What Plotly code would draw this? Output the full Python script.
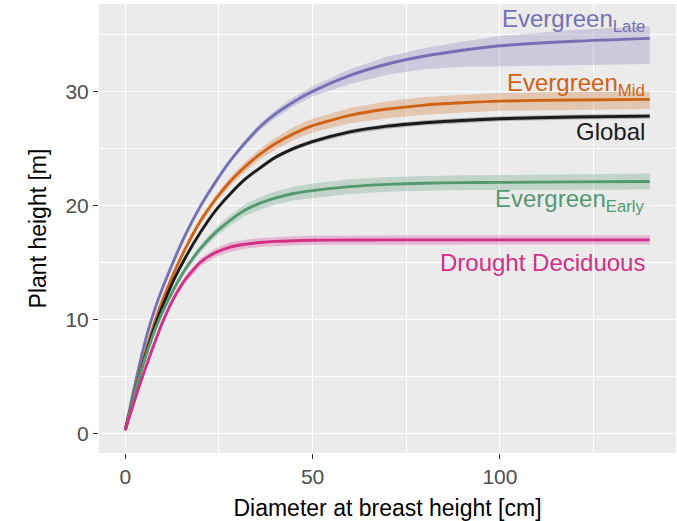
import plotly.graph_objects as go

# Diameter at breast height (cm) at which each height curve is tabulated
dbh = [0, 2, 4, 6, 8, 10, 13, 16, 20, 24, 28, 32, 36, 40, 45, 50,
       60, 70, 80, 90, 100, 120, 140]

# Predicted plant height (m) per group, with distances from the mean
# down to the lower and up to the upper edge of the credible band
late_mean = [0.3, 3.4, 6.3, 8.9, 11.0, 12.8, 15.2, 17.4, 19.9, 22.0, 23.9, 25.5, 26.9, 28.0,
             29.1, 30.0, 31.4, 32.4, 33.1, 33.6, 34.0, 34.4, 34.65]
late_band_lo = [0.05, 0.05, 0.05, 0.05, 0.08, 0.1, 0.1, 0.12, 0.15, 0.18, 0.2, 0.25, 0.3, 0.35,
                0.4, 0.45, 0.75, 0.95, 1.15, 1.45, 1.8, 2.1, 2.25]
late_band_hi = [0.05, 0.05, 0.05, 0.05, 0.08, 0.1, 0.1, 0.12, 0.15, 0.18, 0.2, 0.25, 0.3, 0.35,
                0.4, 0.45, 0.55, 0.65, 0.7, 0.75, 0.85, 1.0, 1.05]

mid_mean = [0.3, 3.0, 5.5, 7.8, 9.9, 11.7, 14.1, 16.2, 18.6, 20.5, 22.1, 23.4, 24.5, 25.4,
            26.3, 27.0, 27.9, 28.45, 28.8, 29.0, 29.15, 29.25, 29.3]
mid_band_lo = [0.03, 0.05, 0.07, 0.1, 0.12, 0.15, 0.18, 0.22, 0.27, 0.32, 0.37, 0.42, 0.47, 0.52,
               0.57, 0.6, 0.7, 0.8, 0.85, 0.85, 0.85, 0.85, 0.85]
mid_band_hi = [0.03, 0.05, 0.07, 0.1, 0.12, 0.15, 0.18, 0.22, 0.27, 0.32, 0.37, 0.42, 0.47, 0.52,
               0.57, 0.6, 0.65, 0.68, 0.7, 0.7, 0.7, 0.7, 0.7]

global_mean = [0.3, 2.9, 5.3, 7.5, 9.5, 11.2, 13.5, 15.4, 17.6, 19.5, 21.0, 22.3, 23.3, 24.2,
               25.0, 25.6, 26.45, 26.95, 27.25, 27.45, 27.6, 27.75, 27.83]
global_band_lo = [0.02, 0.02, 0.03, 0.04, 0.05, 0.05, 0.06, 0.08, 0.1, 0.12, 0.13, 0.15, 0.16, 0.17,
                  0.18, 0.2, 0.2, 0.22, 0.22, 0.22, 0.22, 0.22, 0.22]
global_band_hi = [0.02, 0.02, 0.03, 0.04, 0.05, 0.05, 0.06, 0.08, 0.1, 0.12, 0.13, 0.15, 0.16, 0.17,
                  0.18, 0.2, 0.2, 0.22, 0.22, 0.22, 0.22, 0.22, 0.22]

early_mean = [0.3, 2.9, 5.25, 7.3, 9.15, 10.7, 12.7, 14.4, 16.2, 17.6, 18.7, 19.6, 20.2, 20.65,
              21.05, 21.3, 21.65, 21.85, 21.95, 22.0, 22.02, 22.07, 22.1]
early_band_lo = [0.03, 0.05, 0.07, 0.1, 0.13, 0.16, 0.2, 0.25, 0.32, 0.4, 0.45, 0.5, 0.55, 0.58,
                 0.6, 0.62, 0.64, 0.65, 0.65, 0.65, 0.65, 0.68, 0.7]
early_band_hi = [0.03, 0.05, 0.07, 0.1, 0.13, 0.16, 0.2, 0.25, 0.32, 0.4, 0.45, 0.5, 0.55, 0.58,
                 0.6, 0.62, 0.64, 0.65, 0.65, 0.65, 0.65, 0.68, 0.7]

drought_mean = [0.3, 2.4, 4.4, 6.3, 8.1, 9.8, 11.9, 13.5, 15.0, 15.85, 16.35, 16.6, 16.75, 16.85,
                16.91, 16.95, 16.97, 16.98, 16.98, 16.98, 16.98, 16.98, 16.98]
drought_band_lo = [0.05, 0.07, 0.1, 0.13, 0.16, 0.2, 0.25, 0.3, 0.35, 0.38, 0.4, 0.4, 0.4, 0.4,
                   0.4, 0.4, 0.4, 0.4, 0.4, 0.4, 0.4, 0.4, 0.4]
drought_band_hi = [0.05, 0.07, 0.1, 0.13, 0.16, 0.2, 0.25, 0.3, 0.35, 0.38, 0.4, 0.4, 0.4, 0.4,
                   0.4, 0.4, 0.4, 0.4, 0.4, 0.4, 0.4, 0.4, 0.4]

# group label, colour, series, label anchor height (m)
groups = [
    ("Evergreen<sub>Late</sub>", "#7570B3", late_mean, late_band_lo, late_band_hi, 36.2),
    ("Evergreen<sub>Mid</sub>", "#CF6214", mid_mean, mid_band_lo, mid_band_hi, 30.6),
    ("Global", "#1A1A1A", global_mean, global_band_lo, global_band_hi, 26.5),
    ("Evergreen<sub>Early</sub>", "#52996F", early_mean, early_band_lo, early_band_hi, 20.4),
    ("Drought Deciduous", "#D42F88", drought_mean, drought_band_lo, drought_band_hi, 15.0),
]

FONT = "Liberation Sans, Arial, sans-serif"


def rgba(hex_color, alpha):
    h = hex_color.lstrip("#")
    r, g, b = int(h[0:2], 16), int(h[2:4], 16), int(h[4:6], 16)
    return f"rgba({r},{g},{b},{alpha})"


fig = go.Figure()

# credible bands (polygon: upper edge forward, lower edge back)
for name, color, mean, lo, hi, _ in groups:
    lower = [m - d for m, d in zip(mean, lo)]
    upper = [m + d for m, d in zip(mean, hi)]
    fig.add_trace(go.Scatter(
        x=dbh + dbh[::-1], y=upper + lower[::-1],
        fill="toself", fillcolor=rgba(color, 0.27),
        line=dict(width=0), mode="lines",
        hoverinfo="skip", showlegend=False,
    ))

# mean curves
for name, color, mean, lo, hi, _ in groups:
    fig.add_trace(go.Scatter(
        x=dbh, y=mean, mode="lines",
        line=dict(color=color, width=2.9, shape="spline", smoothing=0.6),
        showlegend=False, name=name,
    ))

# right-aligned group labels
for name, color, mean, lo, hi, label_y in groups:
    fig.add_annotation(
        x=dbh[-1], y=label_y, xref="x", yref="y", text=name, showarrow=False,
        xanchor="right", yanchor="middle", xshift=-3,
        font=dict(family=FONT, size=24, color=color),
    )

axis_font = dict(family=FONT, size=21, color="#4D4D4D")
title_font = dict(family=FONT, size=23, color="#000000")

fig.update_layout(
    width=677, height=521,
    margin=dict(l=99, r=1, t=4, b=68),
    paper_bgcolor="white", plot_bgcolor="#EBEBEB",
    showlegend=False,
)
fig.update_xaxes(
    range=[-7, 147], tickvals=[0, 50, 100], ticktext=["0", "50", "100"],
    showgrid=True, gridcolor="white", gridwidth=1.2, zeroline=False,
    minor=dict(tickvals=[25, 75, 125], showgrid=True, gridcolor="white", gridwidth=0.6),
    ticks="outside", ticklen=5, tickwidth=1.1, tickcolor="#333333",
    tickfont=axis_font, showline=False,
    title=dict(text="Diameter at breast height [cm]", font=title_font, standoff=13),
)
fig.update_yaxes(
    range=[-1.7, 37.66], tickvals=[0, 10, 20, 30], ticktext=["0", "10", "20", "30"],
    showgrid=True, gridcolor="white", gridwidth=1.2, zeroline=False,
    minor=dict(tickvals=[5, 15, 25, 35], showgrid=True, gridcolor="white", gridwidth=0.6),
    ticks="outside", ticklen=5, tickwidth=1.1, tickcolor="#333333",
    tickfont=axis_font, showline=False,
    title=dict(text="Plant height [m]", font=title_font, standoff=12),
)

fig.write_html("out.html")
